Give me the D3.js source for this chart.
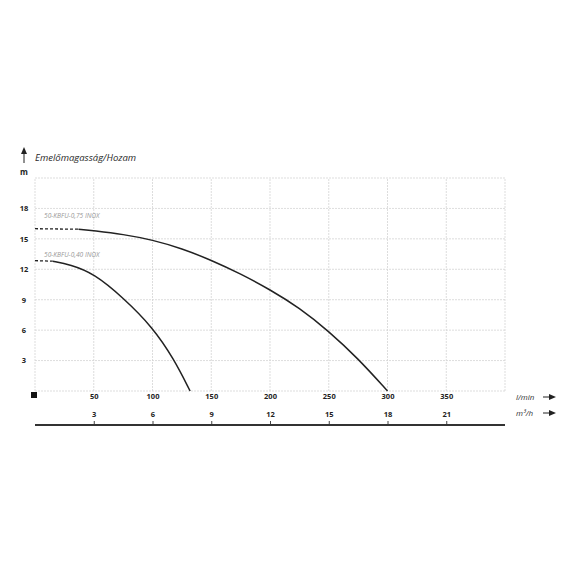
<!DOCTYPE html>
<html>
<head>
<meta charset="utf-8">
<script src="https://cdn.jsdelivr.net/npm/d3@7"></script>
<style>
  body { margin: 0; background: #fff; }
  text { font-family: 'Open Sans', sans-serif; }
</style>
</head>
<body>
<div id="chart"></div>
<script>
// tick values
const flowTicks = [50, 100, 150, 200, 250, 300, 350];
const m3hTicks = [3, 6, 9, 12, 15, 18, 21];
const headTicks = [3, 6, 9, 12, 15, 18];

// curves: [l/min, m]
const pump075Dashed = [[0, 16.0], [37, 15.95]];
const pump075 = [[37, 15.95], [50, 15.8], [75, 15.45], [100, 14.9], [125, 14.05], [150, 12.9], [175, 11.55],
  [200, 10.0], [225, 8.2], [250, 5.9], [275, 3.2], [300, 0]];
const pump040Dashed = [[0, 12.85], [15, 12.8]];
const pump040 = [[15, 12.8], [30, 12.45], [50, 11.6], [75, 9.2], [100, 6.3], [118, 3.2], [132, 0]];
const labels = ['50-KBFU-0,75 INOX', '50-KBFU-0,40 INOX'];

const width = 570, height = 570;
const x0 = 35, x1 = 505, y0 = 391, y1 = 178;

const x = d3.scaleLinear().domain([0, 400]).range([x0, x1]);
const xm = d3.scaleLinear().domain([0, 24]).range([x0, x1]);
const y = d3.scaleLinear().domain([0, 21]).range([y0, y1]);

const svg = d3.select('#chart').append('svg')
  .attr('width', width).attr('height', height);

/* Grid */
svg.selectAll('.vgrid')
  .data(d3.range(0, 401, 50)).join('line')
  .attr('x1', d => x(d)).attr('x2', d => x(d))
  .attr('y1', y0).attr('y2', y1)
  .attr('stroke', '#d4d4d4').attr('stroke-width', 0.8).attr('stroke-dasharray', '2,1');
svg.selectAll('.hgrid')
  .data(d3.range(0, 22, 3)).join('line')
  .attr('x1', x0).attr('x2', x1)
  .attr('y1', d => y(d)).attr('y2', d => y(d))
  .attr('stroke', '#d4d4d4').attr('stroke-width', 0.8).attr('stroke-dasharray', '2,1');

/* Curves */
const line = d3.line().x(d => x(d[0])).y(d => y(d[1])).curve(d3.curveBasis);
[[pump075Dashed, pump075], [pump040Dashed, pump040]].forEach(([dash, solid]) => {
  svg.append('path').attr('d', line(dash))
    .attr('fill', 'none').attr('stroke', '#222').attr('stroke-width', 1.3)
    .attr('stroke-dasharray', '3,2');
  svg.append('path').attr('d', line(solid))
    .attr('fill', 'none').attr('stroke', '#222').attr('stroke-width', 1.5);
});

/* Curve labels */
svg.selectAll('.clabel')
  .data(labels).join('text')
  .attr('x', x(0) + 9)
  .attr('y', (d, i) => i === 0 ? y(pump075Dashed[0][1]) - 11 : y(pump040Dashed[0][1]) - 4)
  .attr('font-size', '6.6px').attr('font-style', 'italic').attr('fill', '#999')
  .text(d => d);

/* Left axis */
svg.append('g')
  .attr('transform', `translate(${x0},0)`)
  .call(d3.axisLeft(y).tickValues(headTicks).tickSize(0))
  .call(ax => ax.select('.domain').remove())
  .selectAll('text')
    .attr('x', -11).attr('text-anchor', 'middle')
    .style('font-family', 'Open Sans, sans-serif').style('font-size', '7.5px')
    .style('font-weight', '700').style('fill', '#222');

svg.append('text').attr('x', 24).attr('y', 175).attr('text-anchor', 'middle')
  .attr('font-size', '8px').attr('font-weight', '700').attr('fill', '#222').text('m');

/* Title + up arrow */
svg.append('line').attr('x1', 24).attr('x2', 24).attr('y1', 163).attr('y2', 152)
  .attr('stroke', '#222').attr('stroke-width', 1);
svg.append('path').attr('d', 'M21,154 L24,147 L27,154 Z').attr('fill', '#222');
svg.append('text').attr('x', 35).attr('y', 161)
  .attr('font-size', '9.5px').attr('font-style', 'italic').attr('fill', '#2a2a2a')
  .text('Emelőmagasság/Hozam');

/* Origin square */
svg.append('rect').attr('x', 31).attr('y', 392).attr('width', 6).attr('height', 6).attr('fill', '#111');

/* l/min axis */
svg.append('g')
  .attr('transform', `translate(0,${y0})`)
  .call(d3.axisBottom(x).tickValues(flowTicks).tickSize(0).tickPadding(3))
  .call(ax => ax.select('.domain').remove())
  .selectAll('text')
    .style('font-family', 'Open Sans, sans-serif').style('font-size', '7.5px')
    .style('font-weight', '700').style('fill', '#222');

/* m3/h axis */
svg.append('g')
  .attr('transform', 'translate(0,425)')
  .call(d3.axisTop(xm).tickValues(m3hTicks).tickSize(4).tickPadding(4))
  .call(ax => {
    ax.select('.domain').remove();
    ax.selectAll('.tick line').attr('stroke', '#444');
  })
  .selectAll('text')
    .style('font-family', 'Open Sans, sans-serif').style('font-size', '7.5px')
    .style('font-weight', '700').style('fill', '#222');

svg.append('line').attr('x1', x0).attr('x2', x1).attr('y1', 425).attr('y2', 425)
  .attr('stroke', '#333').attr('stroke-width', 2);

/* Unit labels with arrows */
[['l/min', 400], ['m³/h', 416]].forEach(([t, yy]) => {
  svg.append('text').attr('x', 516).attr('y', yy)
    .attr('font-size', '8px').attr('font-style', 'italic').attr('fill', '#333').text(t);
  svg.append('line').attr('x1', 543).attr('x2', 552).attr('y1', yy - 3).attr('y2', yy - 3)
    .attr('stroke', '#222').attr('stroke-width', 1);
  svg.append('path').attr('d', `M549,${yy - 6} L556,${yy - 3} L549,${yy} Z`).attr('fill', '#222');
});
</script>
</body>
</html>
